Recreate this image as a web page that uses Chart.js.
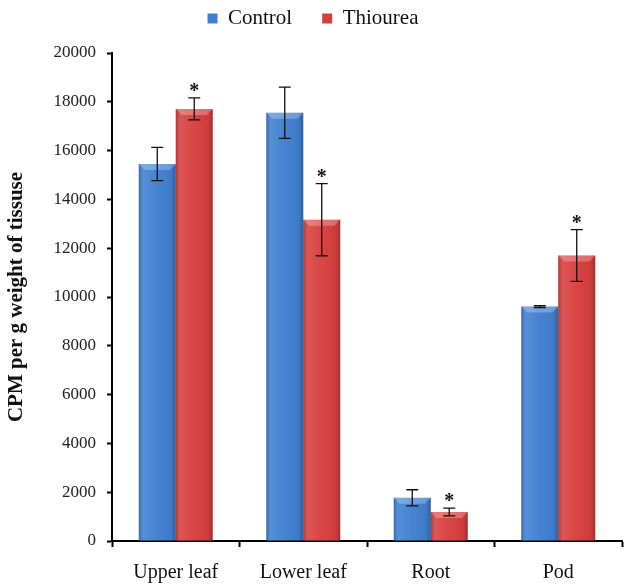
<!DOCTYPE html>
<html>
<head>
<meta charset="utf-8">
<script src="https://cdn.jsdelivr.net/npm/chart.js@4.4.1/dist/chart.umd.min.js"></script>
<style>
  html, body { margin: 0; padding: 0; background: #fff; }
  #wrap { width: 624px; height: 586px; }
</style>
</head>
<body>
<div id="wrap"><canvas id="myChart"></canvas></div>
<script>
const categories = ["Upper leaf", "Lower leaf", "Root", "Pod"];
const controlValues = [15450, 17550, 1770, 9610];
const controlErrors = [680, 1050, 330, 40];
const thioureaValues = [17710, 13170, 1190, 11700];
const thioureaErrors = [450, 1480, 160, 1060];
const thioureaStars = [true, true, true, true];
const yTicks = { min: 0, max: 20000, step: 2000 };

const serif = "'Liberation Serif', 'Times New Roman', serif";

// error bars + asterisks drawn from the library's own scales
const errorBars = {
    id: 'errorBars',
    afterDatasetsDraw(chart) {
        const ctx = chart.ctx;
        const y = chart.scales.y;
        const errs = [controlErrors, thioureaErrors];
        chart.data.datasets.forEach((ds, i) => {
            const meta = chart.getDatasetMeta(i);
            meta.data.forEach((bar, j) => {
                const v = ds.data[j];
                const top = y.getPixelForValue(v + errs[i][j]);
                const bot = y.getPixelForValue(v - errs[i][j]);
                ctx.save();
                ctx.strokeStyle = '#111';
                ctx.lineWidth = 1.3;
                ctx.beginPath();
                ctx.moveTo(bar.x, top); ctx.lineTo(bar.x, bot);
                ctx.moveTo(bar.x - 6, top); ctx.lineTo(bar.x + 6, top);
                ctx.moveTo(bar.x - 6, bot); ctx.lineTo(bar.x + 6, bot);
                ctx.stroke();
                if (i === 1 && thioureaStars[j]) {
                    ctx.fillStyle = '#111';
                    ctx.font = 'bold 20px ' + serif;
                    ctx.textAlign = 'center';
                    ctx.textBaseline = 'alphabetic';
                    ctx.fillText('*', bar.x, top - 1);
                }
                ctx.restore();
            });
        });
    }
};

// bevel shading on top of the bars
const bevel = {
    id: 'bevel',
    afterDatasetsDraw(chart) {
        const ctx = chart.ctx;
        chart.data.datasets.forEach((ds, i) => {
            chart.getDatasetMeta(i).data.forEach(bar => {
                const l = bar.x - bar.width / 2, r = bar.x + bar.width / 2;
                const t = bar.y, b = bar.base;
                ctx.save();
                const g = ctx.createLinearGradient(l, 0, r, 0);
                g.addColorStop(0, 'rgba(0,0,0,0.18)');
                g.addColorStop(0.12, 'rgba(255,255,255,0.12)');
                g.addColorStop(0.5, 'rgba(255,255,255,0.03)');
                g.addColorStop(0.88, 'rgba(0,0,0,0.05)');
                g.addColorStop(1, 'rgba(0,0,0,0.25)');
                ctx.fillStyle = g;
                ctx.fillRect(l, t, r - l, b - t);
                const d = Math.min(6, (b - t) / 2);
                ctx.fillStyle = 'rgba(255,255,255,0.25)';
                ctx.beginPath();
                ctx.moveTo(l, t); ctx.lineTo(r, t); ctx.lineTo(r - d, t + d); ctx.lineTo(l + d, t + d);
                ctx.closePath();
                ctx.fill();
                ctx.restore();
            });
        });
    }
};

// extra room under the legend
const legendGap = {
    id: 'legendGap',
    beforeInit(chart) {
        const fit = chart.legend.fit;
        chart.legend.fit = function () {
            fit.bind(chart.legend)();
            this.height += 14;
        };
    }
};

const ctx = document.getElementById('myChart').getContext('2d');

const myChart = new Chart(ctx, {
    type: 'bar',
    data: {
        labels: categories,
        datasets: [{
            label: 'Control',
            data: controlValues,
            backgroundColor: '#3f7fd0',
            borderWidth: 0
        }, {
            label: 'Thiourea',
            data: thioureaValues,
            backgroundColor: '#d73f3d',
            borderWidth: 0
        }]
    },
    options: {
        responsive: true,
        maintainAspectRatio: false,
        animation: false,
        layout: { padding: { top: -22, right: 2, left: 4, bottom: 0 } },
        plugins: {
            tooltip: { enabled: false },
            legend: {
                position: 'top',
                labels: {
                    color: '#111',
                    font: { family: serif, size: 21 },
                    boxWidth: 10,
                    boxHeight: 10,
                    padding: 30
                }
            }
        },
        datasets: { bar: { categoryPercentage: 0.58, barPercentage: 1.0 } },
        scales: {
            x: {
                afterFit: s => { s.height = 45; },
                grid: { drawOnChartArea: false, offset: true, color: '#000', tickLength: 6, tickWidth: 2 },
                border: { color: '#000', width: 2 },
                ticks: { color: '#111', font: { family: serif, size: 20 }, padding: 14 }
            },
            y: {
                min: yTicks.min,
                max: yTicks.max,
                afterFit: s => { s.width = 108; },
                grid: { drawOnChartArea: false, color: '#000', tickLength: 5, tickWidth: 2 },
                border: { color: '#000', width: 2 },
                ticks: {
                    stepSize: yTicks.step,
                    color: '#222',
                    font: { family: serif, size: 17 },
                    padding: 11,
                    callback: v => String(v)
                },
                title: {
                    display: true,
                    text: 'CPM per g weight of tissuse',
                    color: '#111',
                    font: { family: serif, size: 21, weight: 'bold' },
                    padding: { top: 0, bottom: 0 }
                }
            }
        }
    },
    plugins: [bevel, errorBars, legendGap]
});
</script>
</body>
</html>
